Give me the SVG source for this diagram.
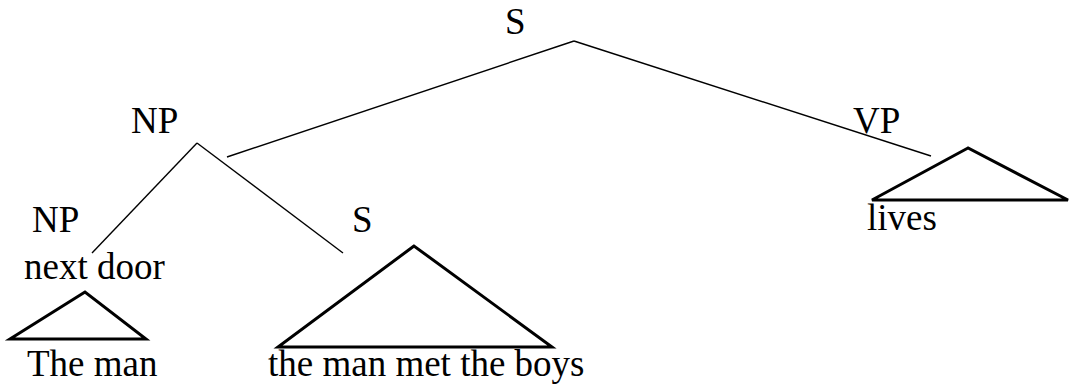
<svg xmlns="http://www.w3.org/2000/svg" width="1073" height="387" viewBox="0 0 1073 387">
<style>
text{font-family:"Liberation Serif","Times New Roman",serif;font-size:37px;fill:#000}
.e{stroke:#000;stroke-width:1.4;fill:none}
.t{stroke:#000;stroke-width:3;fill:none;stroke-linejoin:miter}
</style>
<rect width="1073" height="387" fill="#fff"/>
<g id="connectors">
<line class="e" x1="574" y1="41" x2="227" y2="157"/>
<line class="e" x1="574" y1="41" x2="931" y2="156"/>
<line class="e" x1="197" y1="143" x2="92" y2="253"/>
<line class="e" x1="197" y1="143" x2="343" y2="253"/>
</g>
<g id="S_root"><text x="505" y="34">S</text></g>
<g id="NP_top"><text x="131" y="133">NP</text></g>
<g id="VP"><text x="853" y="133">VP</text>
<polygon class="t" points="968,148 872,200 1068,200"/>
<text x="867" y="230">lives</text></g>
<g id="NP_low"><text x="32" y="232">NP</text>
<text x="24" y="279">next door</text>
<polygon class="t" points="85,292 10,339 146,339"/>
<text x="27" y="376">The man</text></g>
<g id="S_rel"><text x="352" y="232">S</text>
<polygon class="t" points="414,246 278,347 552,347"/>
<text x="268" y="376">the man met the boys</text></g>
</svg>
